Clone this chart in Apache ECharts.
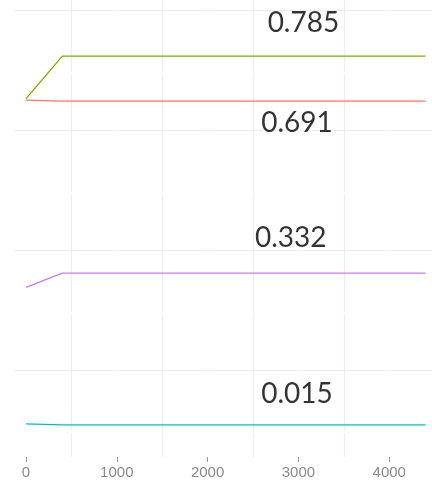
<!DOCTYPE html>
<html>
<head>
<meta charset="utf-8">
<script src="https://cdn.jsdelivr.net/npm/echarts@6/dist/echarts.min.js"></script>
<style>
html,body{margin:0;padding:0;background:#fff;}
#chart{width:432px;height:480px;}
</style>
</head>
<body>
<div id="chart"></div>
<script>
// ---- data ----
const steps = [0, 400, 800, 1200, 1600, 2000, 2400, 2800, 3200, 3600, 4000, 4400];
const greenVals  = [0.696, 0.785, 0.785, 0.785, 0.785, 0.785, 0.785, 0.785, 0.785, 0.785, 0.785, 0.785];
const redVals    = [0.693, 0.691, 0.691, 0.691, 0.691, 0.691, 0.691, 0.691, 0.691, 0.691, 0.691, 0.691];
const purpleVals = [0.302, 0.332, 0.332, 0.332, 0.332, 0.332, 0.332, 0.332, 0.332, 0.332, 0.332, 0.332];
const cyanVals   = [0.017, 0.015, 0.015, 0.015, 0.015, 0.015, 0.015, 0.015, 0.015, 0.015, 0.015, 0.015];

const xTickLabels = [0, 1000, 2000, 3000, 4000];
const xMinorGrid = [500, 1500, 2500, 3500];
const xMajorGrid = [1000, 2000, 3000, 4000];
const yMinorGrid = [0.125, 0.375, 0.625, 0.875];
const yMajorGrid = [0, 0.25, 0.5, 0.75];

const annoText = ['0.785', '0.691', '0.332', '0.015'];
const annoX = [3055, 2985, 2915, 2985];
const annoY = [0.855, 0.645, 0.406, 0.080];

// ---- chart ----
const chart = echarts.init(document.getElementById('chart'), null, {renderer: 'canvas'});
const pairs = (vals) => steps.map((s, i) => [s, vals[i]]);

const gridLines = [];
xMinorGrid.forEach(v => gridLines.push({xAxis: v}));
yMinorGrid.forEach(v => gridLines.push({yAxis: v}));
const whiteLines = [];
xMajorGrid.forEach(v => whiteLines.push({xAxis: v}));
yMajorGrid.forEach(v => whiteLines.push({yAxis: v}));

function lineSeries(vals, color) {
  return {
    type: 'line', data: pairs(vals), showSymbol: false, symbol: 'none',
    lineStyle: {color: color, width: 1.3}, z: 5, animation: false
  };
}

chart.setOption({
  animation: false,
  backgroundColor: '#ffffff',
  grid: {left: 14, right: 0, top: 0, bottom: 23},
  xAxis: {
    type: 'value', min: -132, max: 4471,
    axisLine: {show: false, onZero: false},
    splitLine: {show: false},
    axisTick: {show: true, customValues: xTickLabels, length: 5, lineStyle: {color: '#9a9a9a', width: 1}},
    axisLabel: {show: true, customValues: xTickLabels, color: '#8a8a8a', fontSize: 15,
      fontFamily: 'Liberation Sans', margin: 8, formatter: v => String(v)}
  },
  yAxis: {
    type: 'value', min: -0.052, max: 0.902,
    axisLine: {show: false}, axisTick: {show: false}, axisLabel: {show: false},
    splitLine: {show: false}
  },
  series: [
    {
      type: 'line', data: [], z: 1,
      markLine: {silent: true, symbol: 'none', label: {show: false}, animation: false,
        lineStyle: {type: 'solid', color: '#ededed', width: 1.2}, data: gridLines}
    },
    {
      type: 'line', data: [], z: 2,
      markLine: {silent: true, symbol: 'none', label: {show: false}, animation: false,
        lineStyle: {type: 'solid', color: '#ffffff', width: 2}, data: whiteLines}
    },
    lineSeries(redVals, '#F8766D'),
    lineSeries(greenVals, '#7CAE00'),
    lineSeries(purpleVals, '#C77CFF'),
    lineSeries(cyanVals, '#00BFC4'),
    {
      type: 'scatter', symbolSize: 0, z: 6,
      data: annoX.map((x, i) => ({value: [x, annoY[i]], name: annoText[i]})),
      label: {show: true, position: 'inside', formatter: p => p.name,
        color: '#000000', fontSize: 28, fontFamily: 'Lato'}
    }
  ]
});
</script>
</body>
</html>
